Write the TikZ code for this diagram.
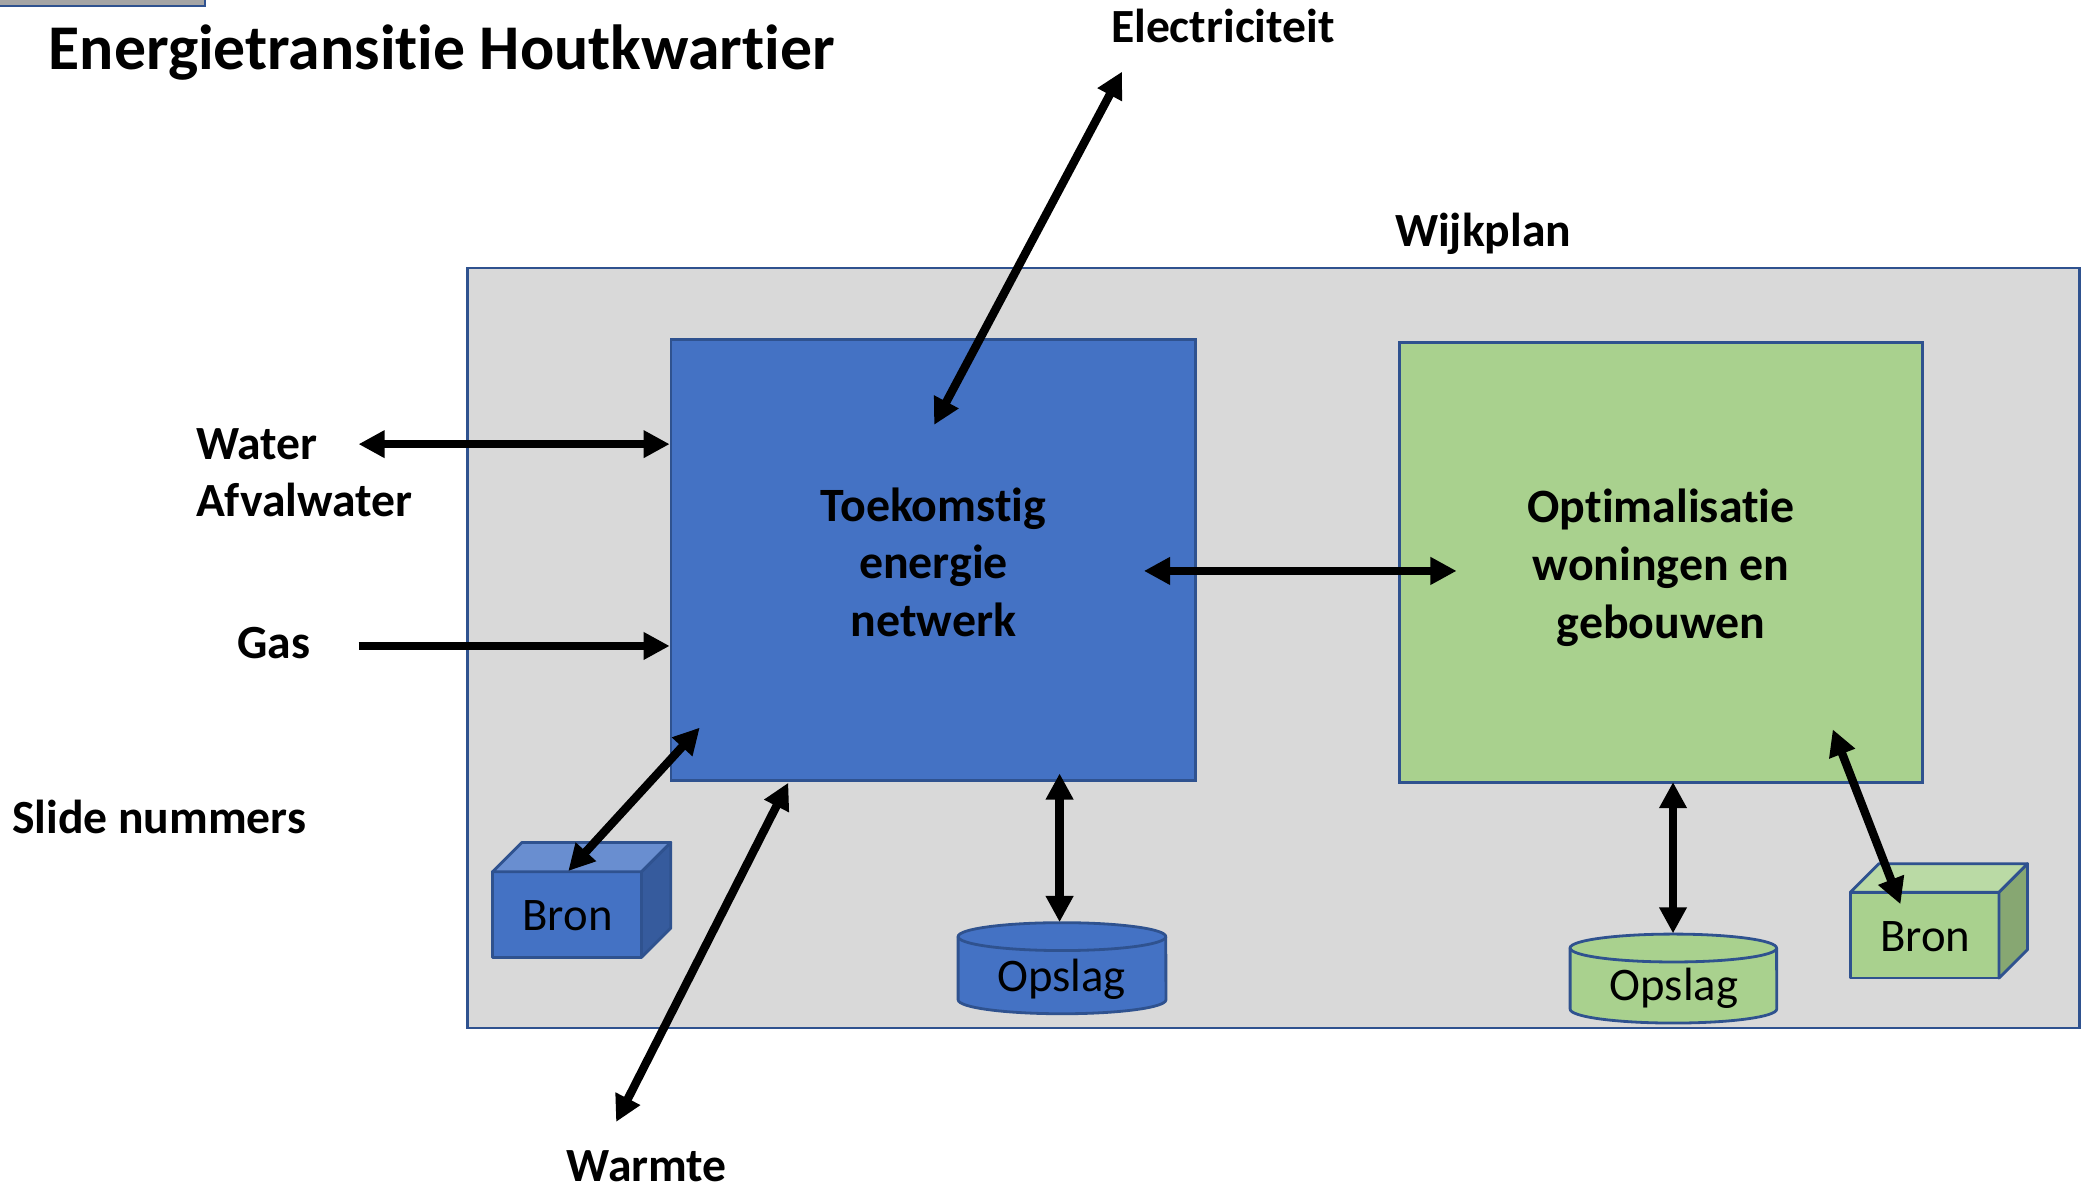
\documentclass[tikz,border=0pt]{standalone}
\usepackage{fontspec}
\setmainfont[Ligatures=NoCommon]{Carlito}
\usetikzlibrary{arrows.meta}
\definecolor{frameblue}{HTML}{2F528F}
\definecolor{wijkgray}{HTML}{D9D9D9}
\definecolor{netblue}{HTML}{4472C4}
\definecolor{netbluetop}{HTML}{698ED0}
\definecolor{netblueside}{HTML}{365B9D}
\definecolor{optgreen}{HTML}{A9D18E}
\definecolor{optgreentop}{HTML}{BADAA5}
\definecolor{optgreenside}{HTML}{87A772}
\definecolor{cornergray}{HTML}{A5A5A5}
\begin{document}
\begin{tikzpicture}[x=0.01cm,y=-0.01cm,
  boldlbl/.style={font=\fontsize{10.2}{12}\selectfont\bfseries, inner sep=0pt},
  plainlbl/.style={font=\fontsize{10}{12}\selectfont, inner sep=0pt},
  panel/.style={draw=frameblue, line width=0.6pt, rectangle, inner sep=0pt},
  paneltext/.style={inner sep=0pt, font=\fontsize{10.25}{12.35}\selectfont\bfseries, align=center},
  shapeline/.style={draw=frameblue, line width=0.6pt, line join=round},
  oneway/.style={line width=1.8pt, -{Triangle[length=5.6pt,width=5.6pt]}},
  twoway/.style={line width=1.8pt, {Triangle[length=5.6pt,width=5.6pt]}-{Triangle[length=5.6pt,width=5.6pt]}},
]
\useasboundingbox (0,0) rectangle (1568,901);

% partial rectangle at the top-left corner
\draw[draw=frameblue, fill=cornergray, line width=0.6pt] (-10,-20) rectangle (154.4,4.5);

% title and outside labels
\node[font=\fontsize{13.65}{16}\selectfont\bfseries, anchor=base west, inner sep=0pt] (title) at (36,52.5) {Energietransitie Houtkwartier};
\node[boldlbl, anchor=base] (elec) at (921,32) {Electriciteit};
\node[boldlbl, anchor=base] (wijklbl) at (1117,186) {Wijkplan};
\node[boldlbl, anchor=base west] (water) at (147,346.4) {Water};
\node[boldlbl, anchor=base west] (afval) at (147,389) {Afvalwater};
\node[boldlbl, anchor=base west] (gas) at (178,496) {Gas};
\node[boldlbl, anchor=base west] (slide) at (8.4,627.5) {Slide nummers};
\node[boldlbl, anchor=base] (warmte) at (487,890) {Warmte};

% Wijkplan area
\node[panel, fill=wijkgray, minimum width=12.135cm, minimum height=5.72cm] (wijk) at (959.25,488) {};

% main panels
\node[panel, fill=netblue, minimum width=3.95cm, minimum height=3.32cm] (net) at (703,422) {};
\node[paneltext] (nettext) at (703,423.5) {Toekomstig\\energie\\netwerk};
\node[panel, fill=optgreen, minimum width=3.94cm, minimum height=3.316cm] (opt) at (1251,423.6) {};
\node[paneltext] (opttext) at (1251,427.5) {Optimalisatie\\woningen en\\gebouwen};

% blue source cube
\filldraw[shapeline, fill=netblue] (371,656.5) rectangle (483.2,721);
\filldraw[shapeline, fill=netbluetop] (371,656.5) -- (393,634.5) -- (505.2,634.5) -- (483.2,656.5) -- cycle;
\filldraw[shapeline, fill=netblueside] (483.2,656.5) -- (505.2,634.5) -- (505.2,699) -- (483.2,721) -- cycle;
\node[plainlbl, anchor=base] (bronB) at (427.5,700.5) {Bron};

% green source cube
\filldraw[shapeline, fill=optgreen] (1393.5,672) rectangle (1505.5,736.6);
\filldraw[shapeline, fill=optgreentop] (1393.5,672) -- (1415,650.5) -- (1527,650.5) -- (1505.5,672) -- cycle;
\filldraw[shapeline, fill=optgreenside] (1505.5,672) -- (1527,650.5) -- (1527,715.1) -- (1505.5,736.6) -- cycle;
\node[plainlbl, anchor=base] (bronG) at (1450,716.7) {Bron};

% blue storage cylinder
\filldraw[shapeline, fill=netblue] (721.6,705.4) -- (721.6,753)
  arc[start angle=180, end angle=360, x radius=0.782cm, y radius=0.105cm]
  -- (878,705.4)
  arc[start angle=0, end angle=180, x radius=0.782cm, y radius=0.105cm] -- cycle;
\draw[shapeline] (721.6,705.4) arc[start angle=180, end angle=360, x radius=0.782cm, y radius=0.105cm];
\node[plainlbl, anchor=base] (opslagB) at (799.5,747) {Opslag};

% green storage cylinder
\filldraw[shapeline, fill=optgreen] (1182.5,714) -- (1182.5,760)
  arc[start angle=180, end angle=360, x radius=0.7775cm, y radius=0.105cm]
  -- (1338,714)
  arc[start angle=0, end angle=180, x radius=0.7775cm, y radius=0.105cm] -- cycle;
\draw[shapeline] (1182.5,714) arc[start angle=180, end angle=360, x radius=0.7775cm, y radius=0.105cm];
\node[plainlbl, anchor=base] (opslagG) at (1260.7,753.6) {Opslag};

% connector end points
\coordinate (wl) at (270,334.5);
\coordinate (gl) at (270,486.5);
\coordinate (elT) at (845,54);
\coordinate (elB) at (703.5,320);
\coordinate (lnk1) at (861.5,430);
\coordinate (lnk2) at (1097,430);
\coordinate (wmT) at (593.7,589.5);
\coordinate (wmB) at (464,845);
\coordinate (brT) at (527,548);
\coordinate (brB) at (428,656);
\coordinate (osT) at (798,582.5);
\coordinate (osB) at (798,694.5);
\coordinate (ogT) at (1260,589);
\coordinate (ogB) at (1260,703);
\coordinate (bgT) at (1380.3,549.3);
\coordinate (bgB) at (1431.3,681);

% connectors
\draw[twoway] (wl) -- (wl -| net.west);
\draw[oneway] (gl) -- (gl -| net.west);
\draw[twoway] (elT) -- (elB);
\draw[twoway] (lnk1) -- (lnk2);
\draw[twoway] (wmT) -- (wmB);
\draw[twoway] (brT) -- (brB);
\draw[twoway] (osT) -- (osB);
\draw[twoway] (ogT) -- (ogB);
\draw[twoway] (bgT) -- (bgB);
\end{tikzpicture}
\end{document}
